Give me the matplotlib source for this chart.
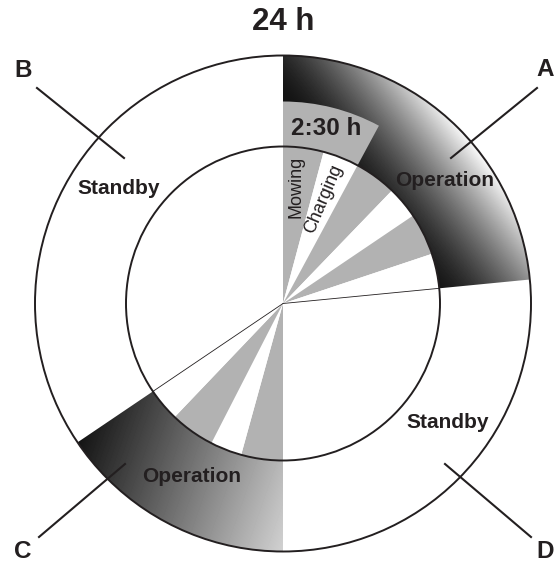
import numpy as np
import matplotlib
matplotlib.use("Agg")
import matplotlib.pyplot as plt
from matplotlib.patches import Wedge, Circle

plt.rcParams['font.family'] = ['Liberation Sans', 'DejaVu Sans']

# day split in periods, hours counted clockwise from the top
segment_labels = ["Operation", "Standby", "Operation", "Standby"]
segment_letters = ["A", "D", "C", "B"]
segment_start = [0.0, 5.63, 12.0, 15.73]
segment_end = [5.63, 12.0, 15.73, 24.0]

# mowing / charging slices inside the operation periods
slice_kind = ["Mowing", "Charging", "Mowing", "Charging", "Mowing", "Charging",
              "Mowing", "Charging", "Mowing", "Charging"]
slice_start = [0.0, 1.0, 1.89, 2.93, 3.73, 4.77, 12.0, 13.03, 13.81, 14.91]
slice_end = [1.0, 1.89, 2.93, 3.73, 4.77, 5.63, 13.03, 13.81, 14.91, 15.73]

# one mowing+charging cycle
cycle_start = 0.0
cycle_end = 1.89
cycle_label = "2:30 h"
title = "24 h"

R_OUT = 248
R_IN = 157
R_CYCLE = 202
INK = '#231f20'
GREY = '#b2b2b2'


def ang(h):
    return 90 - h * 15.0


fig = plt.figure(figsize=(5.56, 5.63), dpi=100)
ax = fig.add_axes([0, 0, 1, 1])
ax.set_xlim(-283, 273)
ax.set_ylim(-259.5, 303.5)
ax.set_aspect('equal')
ax.axis('off')

xs = np.linspace(-283, 273, 556)
ys = np.linspace(-259.5, 303.5, 563)
X, Y = np.meshgrid(xs, ys)
extent = (-283, 273, -259.5, 303.5)

# shading of the operation bands
pa = X * 0.788 + Y * 0.616
grad_a = 0.08 + 0.87 * np.clip((pa - 130) / 116.0, 0, 1) ** 1.5
pc = X * 0.944 - Y * 0.330
grad_c = np.clip(0.07 + (pc + 150) * 0.00323, 0, 1)
grads = {0: grad_a, 2: grad_c}

for i, lab in enumerate(segment_labels):
    w = Wedge((0, 0), R_OUT, ang(segment_end[i]), ang(segment_start[i]),
              width=R_OUT - R_IN, fc='white', ec='none', zorder=1)
    ax.add_patch(w)
    if lab == "Operation":
        im = ax.imshow(grads[i], cmap='gray', vmin=0, vmax=1, extent=extent,
                       origin='lower', interpolation='bilinear', zorder=2)
        im.set_clip_path(w)

# cycle box
ax.add_patch(Wedge((0, 0), R_CYCLE, ang(cycle_end), ang(cycle_start),
                   width=R_CYCLE - R_IN, fc=GREY, ec='none', zorder=3))

# inner disc
ax.add_patch(Circle((0, 0), R_IN, fc='white', ec='none', zorder=3))
for k, s, e in zip(slice_kind, slice_start, slice_end):
    col = GREY if k == "Mowing" else 'white'
    ax.add_patch(Wedge((0, 0), R_IN, ang(e), ang(s), fc=col, ec='none', zorder=4))

# thin lines where operation ends
for i, lab in enumerate(segment_labels):
    if lab == "Operation":
        a = np.radians(ang(segment_end[i]))
        ax.plot([0, R_IN * np.cos(a)], [0, R_IN * np.sin(a)], color=INK, lw=0.6, zorder=5)

ax.add_patch(Circle((0, 0), R_IN, fill=False, ec=INK, lw=1.4, zorder=6))
ax.add_patch(Circle((0, 0), R_OUT, fill=False, ec=INK, lw=1.4, zorder=6))

# texts
ax.text(0, 281.5, title, ha='center', va='center', fontsize=22.5, fontweight='bold', color=INK)
ax.text(43, 175.2, cycle_label, ha='center', va='center', fontsize=17.5, fontweight='bold', color=INK, zorder=7)
ax.text(13, 116.5, "Mowing", ha='center', va='center', rotation=90, fontsize=13, color=INK, zorder=7)
ax.text(41, 104.5, "Charging", ha='center', va='center', rotation=67, fontsize=13, color=INK, zorder=7)

label_pos = [(162, 123.2), (164.5, -119.5), (-91.3, -173.2), (-164.6, 115.5)]
for lab, (x, y) in zip(segment_labels, label_pos):
    ax.text(x, y, lab, ha='center', va='center', fontsize=15, fontweight='bold', color=INK, zorder=7)

# callouts
callouts = {
    "A": ((254, 215.5), (168, 145.5), (253, 234.5)),
    "D": ((248, -233.5), (162, -160.5), (253, -247.5)),
    "C": ((-244, -233.5), (-158, -160.5), (-269, -247.5)),
    "B": ((-246, 215.5), (-159, 145.5), (-269, 233)),
}
for letter in segment_letters:
    p0, p1, pt = callouts[letter]
    ax.plot([p0[0], p1[0]], [p0[1], p1[1]], color=INK, lw=1.5, zorder=8)
    ax.text(pt[0], pt[1], letter, ha='left', va='center', fontsize=17.5, fontweight='bold', color=INK)

fig.savefig("out.png", dpi=100)
